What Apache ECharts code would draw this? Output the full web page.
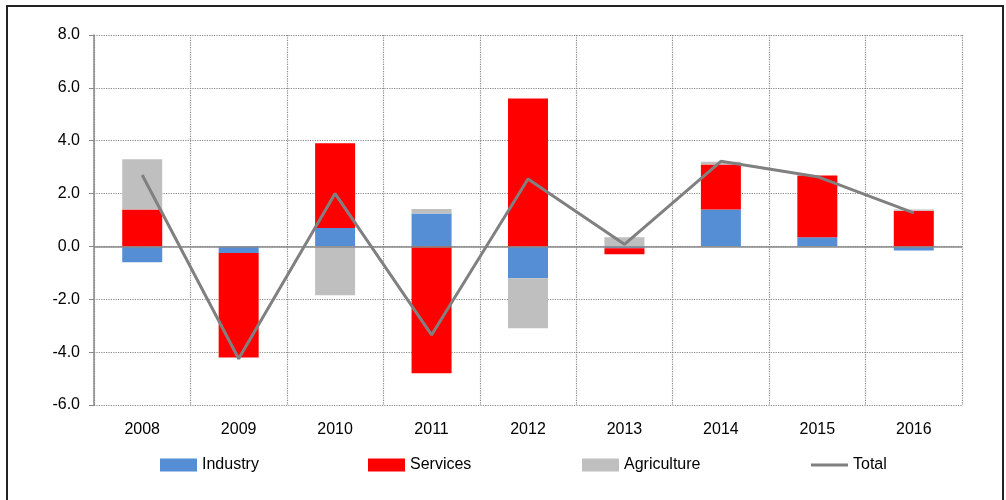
<!DOCTYPE html>
<html>
<head>
<meta charset="utf-8">
<script src="https://cdn.jsdelivr.net/npm/echarts@6/dist/echarts.min.js"></script>
<style>
html,body{margin:0;padding:0;background:#fff;}
#c{width:1006px;height:500px;}
</style>
</head>
<body>
<div id="c"></div>
<script>
const categories = ['2008','2009','2010','2011','2012','2013','2014','2015','2016'];
const industry = [-0.6, -0.25, 0.7, 1.25, -1.2, -0.07, 1.4, 0.35, -0.15];
const services = [1.4, -3.95, 3.2, -4.8, 5.6, -0.23, 1.7, 2.33, 1.35];
const agriculture = [1.9, 0, -1.85, 0.17, -1.9, 0.35, 0.1, 0, 0.05];
const total = [2.7, -4.25, 2.0, -3.35, 2.55, 0.08, 3.22, 2.64, 1.27];
const yTicks = {min: -6, max: 8, interval: 2};

const FONT = 'Liberation Sans, Arial, sans-serif';
const chart = echarts.init(document.getElementById('c'));

function legendAt(name, left, icon, h) {
  return {
    data: [{name: name, icon: icon}],
    left: left, top: 457, padding: 0,
    itemWidth: 37, itemHeight: h, itemGap: 5,
    textStyle: {fontFamily: FONT, fontSize: 16, color: '#000'},
    selectedMode: false
  };
}

chart.setOption({
  animation: false,
  backgroundColor: '#fff',
  graphic: [{
    type: 'rect', silent: true,
    shape: {x: 7, y: 6, width: 996, height: 600},
    style: {fill: 'none', stroke: '#222', lineWidth: 2}
  }],
  legend: [
    legendAt('Industry', 160, 'rect', 13),
    legendAt('Services', 368, 'rect', 13),
    legendAt('Agriculture', 582, 'rect', 13),
    legendAt('Total', 811, 'rect', 3)
  ],
  grid: {left: 94, right: 44, top: 35, bottom: 95},
  xAxis: {
    type: 'category',
    data: categories,
    boundaryGap: true,
    axisLine: {show: false, onZero: false},
    axisTick: {show: false},
    axisLabel: {fontFamily: FONT, fontSize: 16, color: '#000', margin: 17},
    splitLine: {show: true, lineStyle: {type: 'dotted', color: '#888', width: 1.2}}
  },
  yAxis: {
    type: 'value',
    min: yTicks.min, max: yTicks.max, interval: yTicks.interval,
    axisLine: {show: true, lineStyle: {color: '#888', width: 1.5}},
    axisTick: {show: true, length: 5, lineStyle: {color: '#888'}},
    axisLabel: {fontFamily: FONT, fontSize: 16, color: '#000', margin: 14,
      formatter: v => v.toFixed(1)},
    splitLine: {show: true, lineStyle: {type: 'dotted', color: '#888', width: 1.2}}
  },
  series: [
    {name: 'Industry', type: 'bar', stack: 's', data: industry, barWidth: 40,
      itemStyle: {color: '#558ED5'}},
    {name: 'Services', type: 'bar', stack: 's', data: services, barWidth: 40,
      itemStyle: {color: '#FF0000'}},
    {name: 'Agriculture', type: 'bar', stack: 's', data: agriculture, barWidth: 40,
      itemStyle: {color: '#BFBFBF'}},
    {name: 'Total', type: 'line', data: total, symbol: 'none', z: 5,
      lineStyle: {color: '#808080', width: 3}, itemStyle: {color: '#808080'},
      markLine: {silent: true, symbol: 'none', label: {show: false},
        lineStyle: {type: 'solid', color: '#888', width: 1.5},
        data: [{yAxis: 0}]}}
  ]
});
</script>
</body>
</html>
